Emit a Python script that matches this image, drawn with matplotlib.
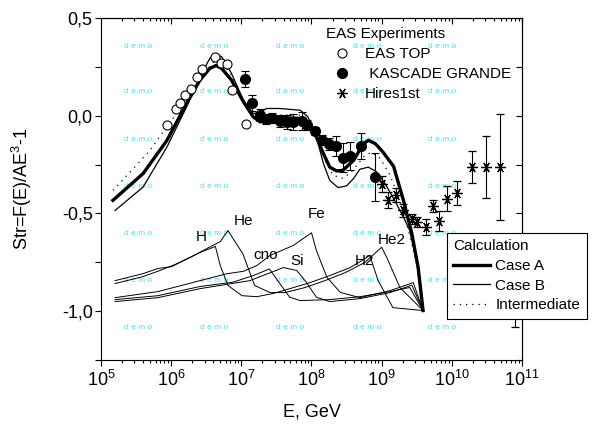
import numpy as np
import matplotlib
matplotlib.use('Agg')
import matplotlib.pyplot as plt
from matplotlib.ticker import MultipleLocator, FuncFormatter, NullFormatter, LogLocator
from matplotlib.lines import Line2D

plt.rcParams['font.family'] = ['Liberation Sans', 'DejaVu Sans']
plt.rcParams['mathtext.fontset'] = 'custom'
plt.rcParams['mathtext.rm'] = 'Liberation Sans'
plt.rcParams['mathtext.it'] = 'Liberation Sans:italic'
plt.rcParams['mathtext.bf'] = 'Liberation Sans:bold'

# --- experimental data (log10 E[GeV], Str) ---
eas_top_loge = [5.94, 6.07, 6.12, 6.20, 6.28, 6.37, 6.44, 6.63, 6.71, 6.80, 6.87, 7.06]
eas_top_val = [-0.049, 0.033, 0.063, 0.105, 0.139, 0.199, 0.237, 0.302, 0.271, 0.264, 0.134, -0.044]

kg_loge = [7.05, 7.15, 7.26, 7.35, 7.44, 7.55, 7.65, 7.74, 7.86, 7.94, 8.05, 8.15,
           8.25, 8.35, 8.45, 8.55, 8.70, 8.90]
kg_val = [0.187, 0.064, 0.003, -0.018, -0.013, -0.028, -0.032, -0.032, -0.026, -0.046,
          -0.079, -0.126, -0.145, -0.156, -0.214, -0.208, -0.154, -0.314]
kg_err = [0.041, 0.041, 0.031, 0.026, 0.026, 0.031, 0.036, 0.041, 0.046, 0.026,
          0.021, 0.026, 0.031, 0.051, 0.072, 0.072, 0.067, 0.123]

hires_loge = [9.00, 9.09, 9.21, 9.30, 9.43, 9.51, 9.63, 9.73, 9.82, 9.93, 10.08,
              10.29, 10.49, 10.69, 10.90]
hires_val = [-0.351, -0.433, -0.408, -0.485, -0.528, -0.542, -0.567, -0.464, -0.538,
             -0.425, -0.396, -0.263, -0.263, -0.263, -0.844]
hires_err = [0.041, 0.041, 0.036, 0.031, 0.026, 0.026, 0.041, 0.031, 0.051, 0.064,
             0.062, 0.082, 0.159, 0.272, 0.236]

# --- calculations ---
case_a_loge = [5.17, 5.60, 5.94, 6.22, 6.41, 6.55, 6.64, 6.72, 6.86, 7.03, 7.17, 7.27,
               7.36, 7.55, 7.84, 7.95, 8.07, 8.17, 8.26, 8.36, 8.45, 8.60, 8.74, 8.81,
               8.91, 9.02, 9.17, 9.31, 9.43, 9.52, 9.59]
case_a_val = [-0.433, -0.296, -0.126, 0.063, 0.182, 0.242, 0.257, 0.242, 0.182, 0.071,
              -0.006, -0.032, -0.023, -0.009, -0.014, -0.040, -0.109, -0.194, -0.263,
              -0.283, -0.279, -0.228, -0.143, -0.126, -0.143, -0.187, -0.259, -0.433,
              -0.603, -0.777, -0.997]

case_b_loge = [5.20, 5.60, 5.94, 6.22, 6.41, 6.55, 6.63, 6.72, 6.86, 7.03, 7.17, 7.27,
               7.36, 7.55, 7.84, 7.95, 8.07, 8.17, 8.26, 8.38, 8.50, 8.60, 8.69, 8.81,
               8.93, 9.05, 9.21, 9.31, 9.40, 9.50, 9.59]
case_b_val = [-0.485, -0.365, -0.160, 0.045, 0.199, 0.293, 0.315, 0.302, 0.216, 0.079,
              0.011, 0.018, 0.037, 0.037, 0.028, -0.006, -0.109, -0.245, -0.331, -0.368,
              -0.359, -0.321, -0.274, -0.263, -0.288, -0.348, -0.450, -0.519, -0.587,
              -0.751, -0.997]

inter_loge = [5.17, 5.41, 5.70, 5.84, 6.06, 6.27, 6.48, 6.63, 6.72, 6.87, 7.02, 7.17,
              7.29, 7.55, 7.84, 7.98, 8.09, 8.19, 8.31, 8.45, 8.59, 8.76, 8.86, 8.98,
              9.12, 9.26, 9.40, 9.52, 9.59]
inter_val = [-0.382, -0.290, -0.177, -0.105, 0.003, 0.115, 0.223, 0.285, 0.274, 0.203,
             0.079, 0.003, -0.013, 0.003, 0.003, -0.023, -0.115, -0.228, -0.305, -0.321,
             -0.279, -0.203, -0.187, -0.218, -0.305, -0.433, -0.613, -0.792, -0.997]

# --- components ---
h_loge = [5.20, 5.60, 5.81, 6.01, 6.23, 6.41, 6.63, 6.70, 6.81, 7.01, 7.22, 7.45, 7.69,
          7.98, 8.26, 8.55, 8.72, 8.83, 8.95, 9.16, 9.59]
h_val = [-0.844, -0.808, -0.782, -0.772, -0.731, -0.700, -0.669, -0.767, -0.869, -0.921,
         -0.926, -0.910, -0.885, -0.854, -0.818, -0.777, -0.741, -0.715, -0.844, -0.982,
         -0.997]
he_loge = [5.20, 5.60, 5.84, 6.05, 6.27, 6.48, 6.70, 6.81, 6.88, 7.02, 7.19, 7.41, 7.62,
           7.91, 8.19, 8.48, 8.76, 9.00, 9.08, 9.26, 9.59]
he_val = [-0.859, -0.823, -0.792, -0.762, -0.726, -0.685, -0.644, -0.587, -0.628, -0.705,
          -0.869, -0.905, -0.905, -0.879, -0.844, -0.803, -0.751, -0.673, -0.731, -0.879,
          -0.997]
cno_loge = [5.20, 5.81, 6.41, 6.88, 7.17, 7.40, 7.55, 7.69, 7.84, 8.26, 8.69, 9.12, 9.40, 9.59]
cno_val = [-0.941, -0.921, -0.874, -0.852, -0.818, -0.784, -0.860, -0.929, -0.946, -0.941,
           -0.926, -0.900, -0.879, -0.997]
si_loge = [5.20, 5.81, 6.41, 7.12, 7.60, 7.79, 7.93, 8.07, 8.26, 8.69, 9.12, 9.43, 9.59]
si_val = [-0.951, -0.931, -0.885, -0.844, -0.777, -0.792, -0.854, -0.929, -0.951, -0.936,
          -0.905, -0.867, -0.997]
fe_loge = [5.20, 5.81, 6.41, 6.79, 7.03, 7.22, 7.41, 7.74, 8.00, 8.07, 8.22, 8.41, 8.69,
           9.12, 9.45, 9.59]
fe_val = [-0.931, -0.900, -0.844, -0.809, -0.796, -0.767, -0.715, -0.664, -0.599, -0.690,
          -0.827, -0.904, -0.931, -0.895, -0.854, -0.997]

comp_labels = ['H', 'He', 'cno', 'Si', 'Fe', 'H2', 'He2']
comp_label_loge = [6.435, 7.03, 7.34, 7.79, 8.07, 8.76, 9.14]
comp_label_val = [-0.622, -0.540, -0.715, -0.741, -0.502, -0.741, -0.638]

fig = plt.figure(figsize=(5.93, 4.25), dpi=100)
ax = fig.add_axes([101 / 593, 65 / 425, 421 / 593, 342 / 425])
ax.set_xscale('log')
ax.set_xlim(1e5, 1e11)
ax.set_ylim(-1.25, 0.5)

# watermark of the original plotting program
for fx in [0.088, 0.268, 0.449, 0.632, 0.810]:
    for fy in [0.918, 0.784, 0.646, 0.506, 0.371, 0.231, 0.094]:
        ax.text(fx, fy, 'd e m o', transform=ax.transAxes, fontsize=6,
                color='#40e8f5', ha='center', va='center', zorder=0.5)

def E(loge):
    return 10 ** np.asarray(loge)

for lx, ly in [(h_loge, h_val), (he_loge, he_val), (cno_loge, cno_val),
               (si_loge, si_val), (fe_loge, fe_val)]:
    ax.plot(E(lx), ly, color='k', lw=0.7)

for lab, lx, ly in zip(comp_labels, comp_label_loge, comp_label_val):
    ax.text(10 ** lx, ly, lab, fontsize=11, ha='center', va='center')

ax.plot(E(case_a_loge), case_a_val, color='k', lw=2.4)
ax.plot(E(case_b_loge), case_b_val, color='k', lw=0.9)
ax.plot(E(inter_loge), inter_val, color='k', lw=0.9, ls=(0, (1, 4)))

ax.plot(E(eas_top_loge), eas_top_val, ls='none', marker='o', ms=6.5,
        mfc='white', mec='k', mew=0.8)
ax.errorbar(E(kg_loge), kg_val, yerr=kg_err, ls='none', marker='o', ms=7,
            color='k', elinewidth=0.8, capsize=3, capthick=0.8)
ax.errorbar(E(hires_loge), hires_val, yerr=hires_err, ls='none', marker=(6, 2, 90),
            ms=7.5, color='k', mew=0.9, elinewidth=0.8, capsize=3, capthick=0.8)

# ticks: outward on bottom/left, inward mirrored on top/right
ax.xaxis.set_major_locator(LogLocator(base=10, numticks=10))
ax.xaxis.set_minor_locator(LogLocator(base=10, subs=np.arange(2, 10), numticks=20))
ax.xaxis.set_minor_formatter(NullFormatter())
ax.yaxis.set_major_locator(MultipleLocator(0.25))

def yfmt(v, pos):
    if abs(v * 2 - round(v * 2)) > 1e-6:
        return ''
    return ('%.1f' % v).replace('.', ',')

ax.yaxis.set_major_formatter(FuncFormatter(yfmt))
ax.tick_params(which='major', direction='out', length=4, width=0.8, labelsize=13, pad=2)
ax.tick_params(which='minor', direction='out', length=2.5, width=0.8)
ax.tick_params(axis='x', pad=3)

top = ax.secondary_xaxis('top')
top.tick_params(which='major', direction='in', length=4, width=0.8, labeltop=False)
top.tick_params(which='minor', direction='in', length=2.5, width=0.8)
top.xaxis.set_major_locator(LogLocator(base=10, numticks=10))
top.xaxis.set_minor_locator(LogLocator(base=10, subs=np.arange(2, 10), numticks=20))
top.xaxis.set_major_formatter(NullFormatter())
top.xaxis.set_minor_formatter(NullFormatter())

right = ax.secondary_yaxis('right')
right.yaxis.set_major_locator(MultipleLocator(0.25))
right.yaxis.set_major_formatter(NullFormatter())
right.tick_params(which='major', direction='in', length=4, width=0.8, labelright=False)

for s in ax.spines.values():
    s.set_linewidth(0.8)

ax.set_xlabel('E, GeV', fontsize=13, labelpad=10)
ax.set_ylabel(r'Str=F(E)/AE$^{3}$-1', fontsize=13, labelpad=20)

exp_handles = [
    Line2D([], [], ls='none', marker='o', ms=6.5, mfc='white', mec='k', mew=0.8),
    Line2D([], [], ls='none', marker='o', ms=7, color='k'),
    Line2D([], [], ls='none', marker=(6, 2, 90), ms=7.5, color='k', mew=0.9),
]
leg1 = ax.legend(exp_handles, ['EAS TOP', ' KASCADE GRANDE', 'Hires1st'],
                 title='EAS Experiments', loc='upper left',
                 bbox_to_anchor=(326 / 593, 1 - 27 / 425), bbox_transform=fig.transFigure,
                 frameon=False, fontsize=11, title_fontsize=11, alignment='left',
                 handlelength=2.1, handletextpad=0.45, labelspacing=0.4,
                 borderpad=0, borderaxespad=0)
ax.add_artist(leg1)

calc_handles = [
    Line2D([], [], color='k', lw=2.4),
    Line2D([], [], color='k', lw=0.9),
    Line2D([], [], color='k', lw=0.9, ls=(0, (1, 4))),
]
leg2 = ax.legend(calc_handles, ['Case A', 'Case B', 'Intermediate'],
                 title='Calculation', loc='upper left',
                 bbox_to_anchor=(447 / 593, 1 - 233 / 425), bbox_transform=fig.transFigure,
                 frameon=True, fancybox=False, edgecolor='k', framealpha=1,
                 fontsize=11, title_fontsize=11, alignment='left',
                 handlelength=2.4, handletextpad=0.35, labelspacing=0.37,
                 borderpad=0.42, borderaxespad=0)
leg2.get_frame().set_linewidth(0.8)
leg2.set_zorder(10)

fig.savefig('out.png', dpi=100)
